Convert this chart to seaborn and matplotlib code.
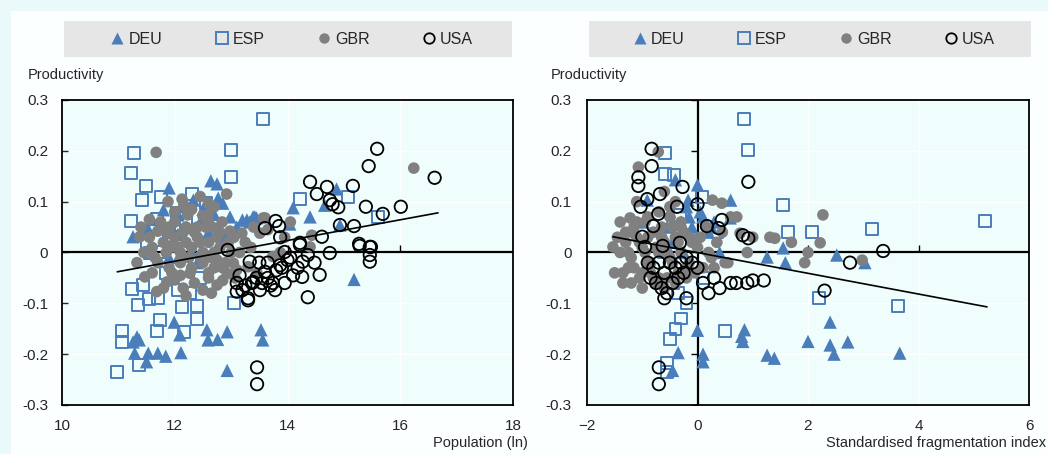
import numpy as np
import pandas as pd
import seaborn as sns
import matplotlib.pyplot as plt
from matplotlib.lines import Line2D
from matplotlib.patches import Rectangle

# left panel: population (ln) vs productivity
deu_pop_x = [11.9, 12.64, 12.75, 12.85, 12.77, 12.98, 11.26, 11.52, 12.06, 11.8, 12.33, 13.28, 13.42,
             14.87, 14.1, 14.4, 14.04, 14.93, 14.66, 13.33, 13.45, 13.2, 13.39,
             12.2, 12.45, 12.6, 11.95, 12.3, 12.9, 12.05, 12.5, 12.15, 11.6, 12.7, 13.1, 12.4, 11.9,
             11.99, 12.09, 11.33, 11.26, 11.37, 11.29, 11.53, 11.7, 11.84, 11.5, 12.11, 12.57, 12.59,
             12.76, 12.93, 12.93, 13.53, 13.56, 15.18]
deu_pop_y = [0.127, 0.141, 0.135, 0.097, 0.107, 0.07, 0.031, 0.048, 0.074, 0.084, 0.103, 0.064, 0.07,
             0.125, 0.088, 0.07, 0.056, 0.054, 0.093, 0.06, 0.068, 0.064, 0.07,
             0.05, 0.06, 0.04, 0.02, 0.0, 0.03, 0.035, 0.085, 0.09, 0.065, 0.075, 0.05, -0.02, -0.01,
             -0.137, -0.162, -0.166, -0.176, -0.172, -0.198, -0.198, -0.198, -0.204, -0.215, -0.197, -0.152, -0.172,
             -0.171, -0.156, -0.232, -0.152, -0.172, -0.053]

esp_pop_x = [13.56, 11.28, 13.0, 11.22, 13.0, 11.49, 11.42, 11.75, 12.3, 12.55, 11.22, 11.68, 12.04,
             14.22, 15.07, 15.6, 11.9, 12.1, 11.5, 12.2, 11.85, 12.45,
             11.24, 11.35, 11.54, 11.7, 11.44, 12.13, 12.39, 12.39, 11.74, 11.06, 11.06, 11.68, 12.16,
             11.37, 10.97, 13.05, 11.56, 11.77, 12.06, 12.27]
esp_pop_y = [0.263, 0.196, 0.202, 0.156, 0.149, 0.131, 0.103, 0.109, 0.115, 0.097, 0.062, 0.066, 0.078,
             0.105, 0.109, 0.07, 0.04, 0.03, 0.02, 0.06, -0.04, -0.05,
             -0.072, -0.104, -0.092, -0.09, -0.064, -0.107, -0.105, -0.131, -0.133, -0.154, -0.176, -0.154, -0.156,
             -0.221, -0.235, -0.1, -0.001, 0.001, -0.074, -0.08]

gbr_pop_x = [11.67, 12.92, 11.88, 12.13, 12.16, 12.6, 12.23, 12.5, 12.59, 12.84, 12.71, 11.7, 11.38, 11.88,
             12.98, 13.19, 13.57, 13.51, 13.6, 14.43, 16.24,
             11.33, 11.47, 11.68, 11.86, 12.0, 12.27, 12.5, 12.75, 12.93, 12.45, 12.09, 11.97, 12.75, 13.04,
             13.3, 13.46, 13.87, 14.4, 13.74, 13.1, 13.07,
             11.6, 11.8, 12.0, 12.2, 12.4, 12.6, 12.8, 13.0, 11.7, 11.9, 12.1, 12.3, 12.5, 12.7, 12.9,
             12.2, 12.4, 12.0, 12.6, 12.8, 11.9, 12.3, 12.5, 12.7, 12.1, 11.5, 12.35, 12.6, 12.15, 11.8,
             11.45, 11.55, 11.65, 11.75, 11.85, 11.95, 12.05, 12.15, 12.25, 12.35, 12.45, 12.55, 12.65,
             12.75, 12.85, 12.95, 13.05, 13.15, 13.25, 13.35, 12.0, 12.3, 12.7, 12.45, 12.1, 12.6, 12.85,
             11.6, 13.4, 13.65, 14.05, 13.95, 12.2, 12.65, 11.4, 11.55]
gbr_pop_y = [0.197, 0.115, 0.1, 0.105, 0.093, 0.097, 0.074, 0.072, 0.074, 0.06, 0.048, 0.042, 0.031, 0.039,
             0.042, 0.038, 0.068, 0.038, 0.068, 0.034, 0.166,
             -0.02, -0.048, -0.077, -0.058, -0.054, -0.041, -0.074, -0.064, -0.041, -0.008, -0.015, 0.011, -0.015, -0.021,
             -0.028, -0.041, 0.0, 0.011, -0.008, -0.034, -0.05,
             0.01, 0.02, 0.03, 0.02, 0.03, 0.02, 0.01, 0.0, -0.02, -0.03, -0.02, -0.03, -0.02, -0.03, -0.02,
             0.05, 0.05, 0.06, 0.06, 0.04, 0.05, 0.01, 0.0, 0.0, 0.0, 0.0, -0.06, -0.05, -0.07, -0.07,
             0.0, 0.03, -0.01, 0.06, 0.0, -0.04, 0.01, 0.04, -0.01, 0.04, 0.02, 0.05, -0.01,
             0.03, -0.03, 0.02, 0.03, 0.0, 0.02, 0.01, 0.08, 0.085, 0.09, 0.11, -0.045, -0.04, -0.055,
             -0.04, 0.05, 0.045, 0.06, 0.03, -0.085, -0.08, 0.05, 0.065]

usa_pop_x = [15.59, 15.44, 14.4, 14.7, 15.16, 14.52, 14.75, 14.8, 14.9, 15.39, 16.01, 15.69, 15.18, 14.93,
             13.79, 13.85, 13.6, 14.61, 14.22, 13.87, 15.27, 15.46, 16.61,
             13.46, 13.46, 12.94, 13.33, 13.1, 13.2, 13.3, 13.39, 13.51, 13.6,
             14.22, 13.95, 14.36, 14.75, 15.28, 15.48, 15.46, 15.46, 14.27, 14.48, 14.57, 14.26, 14.36,
             14.18, 13.87, 13.37, 13.74, 13.78, 13.1, 13.3, 13.9, 13.95, 14.0, 13.65, 13.55, 13.7,
             13.15, 13.25, 13.45, 13.65, 13.8, 14.05, 14.1, 13.5]
usa_pop_y = [0.204, 0.17, 0.139, 0.129, 0.131, 0.115, 0.103, 0.095, 0.089, 0.09, 0.09, 0.076, 0.052, 0.054,
             0.062, 0.052, 0.048, 0.031, 0.019, 0.03, 0.017, 0.011, 0.147,
             -0.226, -0.259, 0.005, -0.018, -0.06, -0.074, -0.09, -0.058, -0.074, -0.038,
             0.015, 0.001, -0.005, -0.001, 0.013, 0.011, -0.005, -0.018, -0.018, -0.02, -0.044, -0.048, -0.088,
             -0.03, -0.025, -0.06, -0.06, -0.074, -0.077, -0.094, -0.03, -0.06, -0.015, -0.02, -0.06, -0.065,
             -0.045, -0.065, -0.05, -0.05, -0.035, -0.01, -0.045, -0.02]

pop_trend_x = [10.98, 16.67]
pop_trend_y = [-0.038, 0.078]

# right panel: standardised fragmentation index vs productivity
deu_frag_x = [0.0, -0.4, 0.6, -0.17, 0.59, 1.55, 1.26, 2.52, 3.03, 1.59, -0.91, -0.98,
              -0.5, -0.3, -0.1, 0.2, -0.6, -0.2, 0.1, -0.45, -0.25, 0.3,
              -0.55, -0.15, 0.05, -0.7, 0.25, -0.05, 0.4,
              -0.35, 0.1, 0.1, -0.45, 0.82, 1.26, 1.39, 2.0, 2.4, 2.47, 2.72, 3.66, 0.85, 0.8, 2.4, 0.0]
deu_frag_y = [0.133, 0.143, 0.103, 0.103, 0.068, 0.009, -0.009, -0.005, -0.02, -0.02, 0.103, 0.06,
              0.08, 0.06, 0.05, 0.04, 0.03, 0.09, 0.07, 0.02, 0.0, 0.06,
              0.05, 0.07, 0.08, 0.045, 0.05, 0.025, 0.0,
              -0.197, -0.2, -0.215, -0.232, -0.175, -0.202, -0.208, -0.175, -0.182, -0.2, -0.176, -0.198,
              -0.152, -0.165, -0.137, -0.153]

esp_frag_x = [0.84, 0.92, -0.59, -0.59, -0.42, 1.55, 1.64, 2.07, 3.16, 0.08, -0.32, 0.35, 5.2, 3.63,
              2.2, -0.55, -0.55, -0.4, -0.3, -0.5, -0.2, 0.5, -0.45, -0.35, 0.1, -0.6]
esp_frag_y = [0.263, 0.202, 0.196, 0.154, 0.153, 0.093, 0.04, 0.04, 0.046, 0.109, 0.074, 0.04, 0.062, -0.105,
              -0.09, -0.217, -0.235, -0.15, -0.13, -0.17, -0.1, -0.155, -0.06, -0.08, -0.05, 0.0]

gbr_frag_x = [-0.71, -1.07, -1.22, -1.53, 2.27, 2.22, 1.94, 1.31, 1.4, 0.77, 0.71, 0.27, 0.44, 2.98,
              -1.4, -1.3, -1.2, -1.1, -1.0, -0.9, -0.8, -0.7, -0.6, -0.5, -0.4, -0.3, -0.2, -0.1, 0.0, 0.2,
              -1.35, -1.25, -1.15, -1.05, -0.95, -0.85, -0.75, -0.65, -0.55, -0.45, -0.35, -0.25, -0.15,
              -1.3, -1.1, -0.9, -0.7, -0.5, -0.3, -1.2, -1.0, -0.8, -0.6, -0.4, 0.3, 0.5,
              -1.5, -1.45, -1.4, -1.35, -1.25, -1.2, -1.15, -1.05, -1.0, -0.95, -0.9, -0.85, -0.75,
              -0.7, -0.65, -0.55, -0.5, -0.45, -0.35, -0.3, -0.2, -0.15, -0.05, 0.05, 0.1, 0.15, 0.25,
              0.35, 0.45, 0.55, 0.6, -1.1, -0.6, -0.4, 1.0, 0.9, 1.7, 2.0]
gbr_frag_y = [0.198, 0.168, 0.068, 0.011, 0.074, 0.019, -0.02, 0.03, 0.028, 0.038, 0.07, 0.103, 0.097, -0.015,
              0.0, 0.02, -0.01, 0.03, 0.01, -0.02, 0.04, 0.0, 0.02, -0.01, 0.03, 0.0, -0.03, 0.02, 0.01, 0.0,
              -0.04, -0.03, 0.05, -0.05, 0.06, -0.04, -0.06, 0.05, -0.05, 0.05, -0.04, 0.04, -0.02,
              0.04, 0.06, 0.07, 0.08, 0.09, 0.06, -0.06, -0.07, -0.05, -0.07, -0.06, -0.03, -0.02,
              -0.04, 0.03, 0.06, -0.06, 0.0, 0.04, -0.03, 0.02, -0.04, 0.0, 0.03, -0.02, 0.01,
              -0.05, 0.03, 0.0, 0.07, -0.02, 0.02, 0.05, -0.05, 0.03, -0.04, 0.03, -0.03, 0.05, -0.01,
              0.02, 0.04, -0.02, 0.07, 0.1, 0.12, 0.1, 0.03, 0.0, 0.02, 0.0]

usa_frag_x = [-0.83, -0.83, 0.92, -1.07, -1.07, -0.27, -0.68, -0.37, -1.03, -0.71, -0.91, 0.0, -0.8, 0.17,
              0.44, 0.38, 0.82, 0.92, -1.0, -0.95, -0.63, -0.32, 2.76, 3.36, -0.7, -0.7,
              -0.9, -0.8, -0.7, -0.6, -0.5, -0.4, -0.3, -0.2, -0.1, 0.1, 0.3, 0.6, 0.9, 1.0, 1.2,
              -0.85, -0.75, -0.65, -0.55, -0.45, -0.35, -0.25, 0.2, 0.4, 0.7, 2.3, -0.6, -0.2, 0.0]
usa_frag_y = [0.204, 0.17, 0.139, 0.148, 0.131, 0.129, 0.115, 0.09, 0.09, 0.076, 0.105, 0.095, 0.052, 0.052,
              0.064, 0.048, 0.034, 0.028, 0.031, 0.011, 0.013, 0.019, -0.02, 0.003, -0.226, -0.259,
              -0.02, -0.03, -0.02, -0.04, -0.02, -0.03, -0.02, -0.01, -0.02, -0.06, -0.05, -0.06, -0.06, -0.055, -0.055,
              -0.05, -0.06, -0.07, -0.08, -0.06, -0.05, -0.04, -0.08, -0.07, -0.06, -0.075, -0.09, -0.09, -0.03]

frag_trend_x = [-1.53, 5.24]
frag_trend_y = [0.031, -0.107]

countries = ['DEU', 'ESP', 'GBR', 'USA']
blue = '#4a7ebb'
grey = '#808080'
styles = {
    'DEU': dict(marker='^', s=92, color=blue, edgecolor='none', linewidth=0),
    'ESP': dict(marker='s', s=72, facecolor='none', edgecolor=blue, linewidth=1.4),
    'GBR': dict(marker='o', s=70, color=grey, edgecolor='none', linewidth=0),
    'USA': dict(marker='o', s=80, facecolor='none', edgecolor='black', linewidth=1.3),
}

W, H = 1048, 454
fig = plt.figure(figsize=(W / 100, H / 100), dpi=100)
sns.set_style('white')
plt.rcParams['font.family'] = ['Liberation Sans', 'DejaVu Sans']
fig.patch.set_facecolor('#eafafa')
fig.add_artist(Rectangle((11 / W, 0), 1, 1 - 11 / H, transform=fig.transFigure,
                         facecolor='#fbffff', edgecolor='none', zorder=-10))

panels = [
    dict(rect=[62 / W, 49 / H, 451 / W, 305 / H], xlim=(10, 18), xticks=[10, 12, 14, 16, 18],
         data=[(deu_pop_x, deu_pop_y), (esp_pop_x, esp_pop_y), (gbr_pop_x, gbr_pop_y), (usa_pop_x, usa_pop_y)],
         trend=(pop_trend_x, pop_trend_y), xlabel='Population (ln)', xlabel_right=528, ylab_x=28,
         legend_box=(64, 512)),
    dict(rect=[587 / W, 49 / H, 442 / W, 305 / H], xlim=(-2, 6), xticks=[-2, 0, 2, 4, 6],
         data=[(deu_frag_x, deu_frag_y), (esp_frag_x, esp_frag_y), (gbr_frag_x, gbr_frag_y), (usa_frag_x, usa_frag_y)],
         trend=(frag_trend_x, frag_trend_y), xlabel='Standardised fragmentation index', xlabel_right=1046,
         ylab_x=551, legend_box=(589, 1031)),
]

yticks = [-0.3, -0.2, -0.1, 0, 0.1, 0.2, 0.3]
fmt = lambda v, p: '0' if abs(v) < 1e-9 else f'{v:g}'

for i, p in enumerate(panels):
    ax = fig.add_axes(p['rect'])
    ax.set_facecolor('#f0fdfd')
    for c, (xs, ys) in zip(countries, p['data']):
        sns.scatterplot(x=xs, y=ys, ax=ax, zorder=3, legend=False, **styles[c])
    sns.lineplot(x=p['trend'][0], y=p['trend'][1], ax=ax, color='black', linewidth=1.2, zorder=4)
    ax.set_xlim(*p['xlim'])
    ax.set_ylim(-0.3, 0.3)
    ax.set_xticks(p['xticks'])
    ax.set_yticks(yticks)
    ax.yaxis.set_major_formatter(plt.FuncFormatter(fmt))
    ax.grid(True, color='white', linewidth=1.0, zorder=0)
    ax.set_axisbelow(True)
    for sp in ax.spines.values():
        sp.set_visible(True)
        sp.set_color('black')
        sp.set_linewidth(1.3)
    ax.axhline(0, color='black', linewidth=1.6, zorder=2)
    ax.tick_params(axis='x', length=0, pad=10, labelsize=11)
    if i == 0:
        ax.tick_params(axis='y', direction='in', length=4, width=1, pad=10, labelsize=11, left=True)
        ax.plot(p['xticks'][1:-1], [0] * 3, ls='', marker=2, ms=5, mew=1, color='black', zorder=2)
    else:
        ax.tick_params(axis='y', length=0, pad=11, labelsize=11)
        ax.axvline(0, color='black', linewidth=1.6, zorder=2)
        ax.plot([0] * len(yticks), yticks, ls='', marker=0, ms=5, mew=1, color='black', zorder=2)
        ax.plot([2, 4], [0, 0], ls='', marker=2, ms=5, mew=1, color='black', zorder=2)
    ax.set_xlabel('')
    ax.set_ylabel('')

    # legend strip
    x0, x1 = p['legend_box']
    fig.add_artist(Rectangle((x0 / W, 1 - 57 / H), (x1 - x0) / W, 36 / H, transform=fig.transFigure,
                             facecolor='#e6e6e6', edgecolor='none', zorder=1))
    handles = [Line2D([], [], ls='', marker='^', ms=9, color=blue, mec='none'),
               Line2D([], [], ls='', marker='s', ms=8, mfc='none', mec=blue, mew=1.4),
               Line2D([], [], ls='', marker='o', ms=7.5, color=grey, mec='none'),
               Line2D([], [], ls='', marker='o', ms=7.5, mfc='none', mec='black', mew=1.3)]
    fig.legend(handles, countries, loc='center', ncol=4, frameon=False, fontsize=11.5,
               bbox_to_anchor=((x0 + x1) / 2 / W + 4 / W, 1 - 39 / H), handlelength=0.8, handletextpad=0.3,
               columnspacing=3.3)

    fig.text(p['ylab_x'] / W, 1 - 75 / H, 'Productivity', fontsize=10.5, va='center', ha='left')
    fig.text(p['xlabel_right'] / W, 1 - 443 / H, p['xlabel'], fontsize=10.5, va='center', ha='right')

fig.savefig('out.png', dpi=100, facecolor=fig.get_facecolor())
